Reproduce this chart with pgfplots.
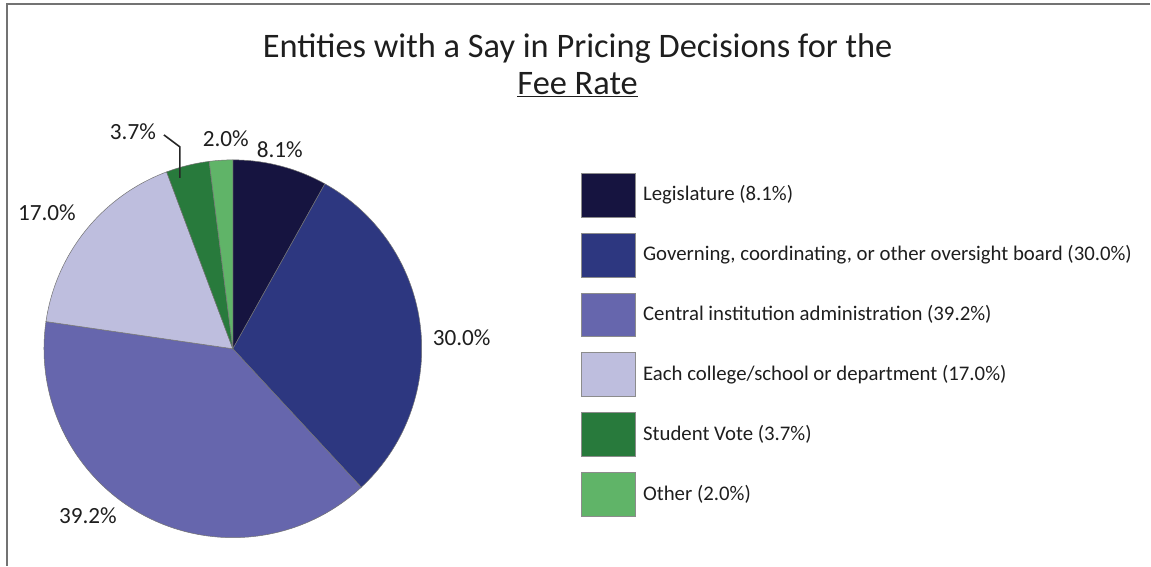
\documentclass[border=0pt]{standalone}
\usepackage{pgfplots}
\pgfplotsset{compat=1.18}
\usepackage{fontspec}
\setmainfont{Carlito}

\definecolor{cLeg}{RGB}{22,20,64}
\definecolor{cGov}{RGB}{45,55,128}
\definecolor{cCen}{RGB}{102,102,173}
\definecolor{cCol}{RGB}{190,190,222}
\definecolor{cStu}{RGB}{40,122,60}
\definecolor{cOth}{RGB}{96,180,104}
\definecolor{txt}{RGB}{30,30,30}

% pie geometry (axis units = 1bp)
\def\cx{233}\def\cy{217}\def\rr{189}
% shares in percent
\def\vLeg{8.1}\def\vGov{30.0}\def\vCen{39.2}\def\vCol{17.0}\def\vStu{3.7}\def\vOth{2.0}

\newcommand{\pieslice}[3]{% start angle, share, colour
  \fill[#3, draw=black!55, line width=0.5bp]
    (axis cs:\cx,\cy) -- ++({#1}:\rr bp)
    arc[start angle={#1}, delta angle={-3.6*(#2)}, radius=\rr bp] -- cycle;}

\begin{document}
\begin{tikzpicture}
\begin{axis}[
    width=1151bp, height=566bp, scale only axis,
    xmin=0, xmax=1151, ymin=0, ymax=566,
    hide axis, clip=false,
]
\path (axis cs:0,0) rectangle (axis cs:1151,566);
\draw[black!55, line width=1.5bp] (axis cs:7,0) -- (axis cs:7,562) -- (axis cs:1151,562);

\node[anchor=base, text=txt, font=\fontsize{34.4bp}{36bp}\selectfont] at (axis cs:578,508)
  {Entities with a Say in Pricing Decisions for the};
\node[anchor=base, text=txt, font=\fontsize{34.4bp}{36bp}\selectfont] at (axis cs:578,471)
  {\underline{Fee Rate}};

\pieslice{90}{\vLeg}{cLeg}
\pieslice{90-3.6*(\vLeg)}{\vGov}{cGov}
\pieslice{90-3.6*(\vLeg+\vGov)}{\vCen}{cCen}
\pieslice{90-3.6*(\vLeg+\vGov+\vCen)}{\vCol}{cCol}
\pieslice{90-3.6*(\vLeg+\vGov+\vCen+\vCol)}{\vStu}{cStu}
\pieslice{90-3.6*(\vLeg+\vGov+\vCen+\vCol+\vStu)}{\vOth}{cOth}

\begin{scope}[every node/.style={text=txt, font=\fontsize{23.2bp}{25bp}\selectfont}]
\node at (axis cs:280,416) {8.1\%};
\node at (axis cs:226,427) {2.0\%};
\node at (axis cs:133,434) {3.7\%};
\node at (axis cs:47,353) {17.0\%};
\node at (axis cs:462,228) {30.0\%};
\node at (axis cs:88,50) {39.2\%};
\end{scope}
\draw[black!85, line width=1.6bp] (axis cs:164,431) -- (axis cs:180,419) -- (axis cs:180,388);

\begin{scope}[every node/.style={text=txt, anchor=west, font=\fontsize{20.8bp}{22bp}\selectfont}]
\fill[cLeg, draw=black!45, line width=0.6bp] (axis cs:582,349) rectangle (axis cs:636,393);
\node at (axis cs:640,371) {Legislature (8.1\%)};
\fill[cGov, draw=black!45, line width=0.6bp] (axis cs:582,289) rectangle (axis cs:636,333);
\node at (axis cs:640,311) {Governing, coordinating, or other oversight board (30.0\%)};
\fill[cCen, draw=black!45, line width=0.6bp] (axis cs:582,229) rectangle (axis cs:636,273);
\node at (axis cs:640,251) {Central institution administration (39.2\%)};
\fill[cCol, draw=black!45, line width=0.6bp] (axis cs:582,169) rectangle (axis cs:636,213);
\node at (axis cs:640,191) {Each college/school or department (17.0\%)};
\fill[cStu, draw=black!45, line width=0.6bp] (axis cs:582,109) rectangle (axis cs:636,153);
\node at (axis cs:640,131) {Student Vote (3.7\%)};
\fill[cOth, draw=black!45, line width=0.6bp] (axis cs:582,49) rectangle (axis cs:636,93);
\node at (axis cs:640,71) {Other (2.0\%)};
\end{scope}
\end{axis}
\end{tikzpicture}
\end{document}
